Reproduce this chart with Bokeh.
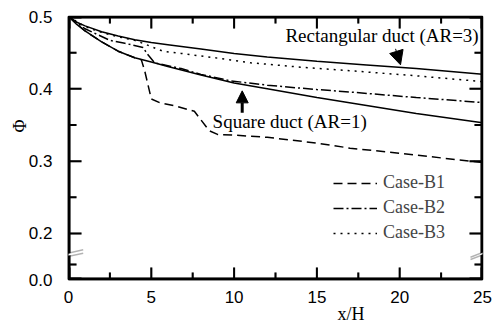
from bokeh.plotting import figure
from bokeh.models import (FixedTicker, Legend, LegendItem, Label, Arrow, Title,
                          NormalHead, Range1d, PolyAnnotation)
from bokeh.embed import file_html
from bokeh.resources import INLINE

# ---- data ----
x_duct = [0, 0.5, 1, 2, 3, 4, 5, 6, 8, 10, 12, 15, 18, 21, 25]
phi_rect = [0.500, 0.492, 0.487, 0.479, 0.473, 0.468, 0.464, 0.461, 0.455, 0.449, 0.444, 0.438, 0.433, 0.428, 0.420]
phi_square = [0.500, 0.489, 0.480, 0.465, 0.452, 0.443, 0.437, 0.431, 0.419, 0.408, 0.400, 0.388, 0.377, 0.366, 0.353]

x_b1 = [0, 1, 2, 3, 4, 4.4, 4.6, 5.0, 5.5, 6.5, 7.6, 8.0, 8.5, 9.0, 10, 12, 15, 17, 20, 25]
phi_b1 = [0.500, 0.480, 0.465, 0.452, 0.443, 0.440, 0.425, 0.386, 0.381, 0.376, 0.369, 0.357, 0.342, 0.337, 0.336, 0.333, 0.325, 0.318, 0.311, 0.298]

x_b2 = [0, 1, 2.5, 3.4, 4.5, 4.8, 5.2, 6, 6.8, 8, 9.8, 12, 15, 17.3, 21, 25]
phi_b2 = [0.500, 0.483, 0.467, 0.463, 0.457, 0.447, 0.436, 0.432, 0.428, 0.420, 0.411, 0.405, 0.399, 0.395, 0.388, 0.381]

x_b3 = [0, 1, 2, 3, 4, 4.6, 5.7, 6.8, 9.8, 11, 14, 17.3, 21, 25]
phi_b3 = [0.500, 0.486, 0.478, 0.472, 0.467, 0.462, 0.452, 0.449, 0.440, 0.436, 0.430, 0.4245, 0.418, 0.410]

case_labels = ["Case-B1", "Case-B2", "Case-B3"]

x_ticks = [0, 5, 10, 15, 20, 25]
x_minor = [2.5, 7.5, 12.5, 17.5, 22.5]
# broken y axis: the "0.0" tick sits just below the break
y_ticks = [0.1364, 0.2, 0.3, 0.4, 0.5]
y_tick_labels = ["0.0", "0.2", "0.3", "0.4", "0.5"]
y_minor = [0.1571, 0.25, 0.35, 0.45]

X0, X1 = 0, 25
Y0, Y1 = 0.1364, 0.5

W, H = 494, 326
BL, BR, BT, BB = 68, 12, 16, 47
FW, FH = W - BL - BR, H - BT - BB
DX = (X1 - X0) / FW   # data units per pixel
DY = (Y1 - Y0) / FH

SANS = "Liberation Sans"
SERIF = "Liberation Serif"

p = figure(width=W, height=H, output_backend="svg", toolbar_location=None,
           x_range=Range1d(X0, X1), y_range=Range1d(Y0, Y1),
           min_border_left=BL, min_border_right=BR, min_border_top=BT, min_border_bottom=BB,
           background_fill_color=None, border_fill_color="white")
p.xgrid.visible = False
p.ygrid.visible = False
p.outline_line_color = "black"
p.outline_line_width = 1.5

xt = FixedTicker(ticks=x_ticks, minor_ticks=x_minor)
yt = FixedTicker(ticks=y_ticks, minor_ticks=y_minor)

for ax in (p.xaxis[0], p.yaxis[0]):
    ax.axis_line_color = "black"
    ax.axis_line_width = 1.5
    ax.major_tick_line_color = None
    ax.minor_tick_line_color = None
    ax.major_tick_in = 0
    ax.major_tick_out = 0
    ax.minor_tick_in = 0
    ax.minor_tick_out = 0
    ax.major_label_text_font = SANS
    ax.major_label_text_font_size = "17px"
    ax.major_label_text_color = "black"
p.xaxis.ticker = xt
p.yaxis.ticker = yt
p.xaxis.major_label_standoff = 11
p.yaxis.major_label_standoff = 16
p.yaxis.major_label_overrides = {t: s for t, s in zip(y_ticks, y_tick_labels)}

# ---- series ----
p.line(x_duct, phi_rect, line_color="black", line_width=1.5)
p.line(x_duct, phi_square, line_color="black", line_width=1.5)
r1 = p.line(x_b1, phi_b1, line_color="black", line_width=1.5, line_dash="9 5")
r2 = p.line(x_b2, phi_b2, line_color="black", line_width=1.5, line_dash="10 3 2 3")
r3 = p.line(x_b3, phi_b3, line_color="black", line_width=1.5, line_dash="2 5")


# ---- frame and inward ticks ----
def sx(v):
    return (v - X0) / DX


def sy(v):
    return (v - Y0) / DY


def rule(x0, y0, x1, y1, lw=2):
    p.add_layout(PolyAnnotation(xs=[sx(x0), sx(x1)], ys=[sy(y0), sy(y1)],
                                xs_units="screen", ys_units="screen",
                                fill_alpha=0, line_color="black", line_width=lw))


for (a, b, c, d) in [(X0, Y0, X1, Y0), (X0, Y1, X1, Y1), (X0, Y0, X0, Y1), (X1, Y0, X1, Y1)]:
    rule(a, b, c, d, 4)
p.line([X0 + DX, X1 - DX], [Y0 + DY, Y0 + DY], line_color="black", line_width=2)
p.line([X0 + DX, X1 - DX], [Y1 - DY, Y1 - DY], line_color="black", line_width=2)
p.line([X0 + DX, X0 + DX], [Y0 + DY, Y1 - DY], line_color="black", line_width=2)
p.line([X1 - DX, X1 - DX], [Y0 + DY, Y1 - DY], line_color="black", line_width=2)

for yy, sgn in ((Y0, 1), (Y1, -1)):
    for ticks, ln in ((x_ticks, 12), (x_minor, 7)):
        for t in ticks:
            rule(t, yy, t, yy + sgn * ln * DY)
            tx = min(max(t, X0 + DX), X1 - DX)
            p.line([tx, tx], [yy + sgn * 0.5 * DY, yy + sgn * ln * DY],
                   line_color="black", line_width=2)
for xx, sgn in ((X0, 1), (X1, -1)):
    for ticks, ln in ((y_ticks, 13), (y_minor, 8)):
        for t in ticks:
            rule(xx, t, xx + sgn * ln * DX, t)
            ty = min(max(t, Y0 + DY), Y1 - DY)
            p.line([xx + sgn * 0.5 * DX, xx + sgn * ln * DX], [ty, ty],
                   line_color="black", line_width=2)

# ---- axis titles ----
t_phi = Title(text="\u03a6", align="left", offset=147, text_font=SERIF, text_font_size="18px",
              text_font_style="normal", text_color="black")
t_x = Title(text="x/H", align="left", offset=269, text_font=SERIF, text_font_size="18px",
            text_font_style="normal", text_color="black")
for t, s, fb in ((t_phi, -8, 0), (t_x, -8, 0)):
    try:
        t.standoff = s
    except Exception:
        t.standoff = fb
p.add_layout(t_phi, "left")
p.add_layout(t_x, "below")

# axis break marks
p.add_layout(PolyAnnotation(xs=[-14.7, 14.7, 14.7, -14.7], ys=[20.6, 27.0, 29.2, 22.4],
                            xs_units="screen", ys_units="screen",
                            fill_color="white", fill_alpha=1, line_color=None))
p.add_layout(PolyAnnotation(xs=[402, 417, 417, 402], ys=[20.4, 26.1, 28.0, 22.0],
                            xs_units="screen", ys_units="screen",
                            fill_color="white", fill_alpha=1, line_color=None))
for (xs, ys, xe, ye) in [(-14.7, 23.0, 14.7, 29.7), (-14.7, 20.0, 14.7, 26.3),
                         (402, 22.3, 417, 28.3), (402, 20.0, 417, 25.7)]:
    p.add_layout(PolyAnnotation(xs=[xs, xe], ys=[ys, ye], xs_units="screen", ys_units="screen",
                                fill_alpha=0, line_color="black", line_width=1.5))

legend = Legend(items=[LegendItem(label=case_labels[0], renderers=[r1]),
                       LegendItem(label=case_labels[1], renderers=[r2]),
                       LegendItem(label=case_labels[2], renderers=[r3])],
                location=(265, 36), label_text_font=SERIF, label_text_font_size="18px",
                glyph_width=44, glyph_height=20, label_height=20, spacing=4,
                padding=0, margin=0, label_standoff=6,
                border_line_color=None, background_fill_alpha=0)
p.add_layout(legend)

# ---- annotations ----
p.add_layout(Label(x=13.1, y=0.4735, text="Rectangular duct (AR=3)", text_font=SERIF,
                   text_font_size="19px", text_baseline="alphabetic", text_color="black"))
p.add_layout(Label(x=8.7, y=0.3545, text="Square duct (AR=1)", text_font=SERIF,
                   text_font_size="19px", text_baseline="alphabetic", text_color="black"))
p.add_layout(Arrow(end=NormalHead(size=14, fill_color="black", line_color="black"),
                   x_start=19.75, y_start=0.4553, x_end=20.05, y_end=0.4332,
                   line_color="black", line_width=1))
p.add_layout(Arrow(end=NormalHead(size=12, fill_color="black", line_color="black"),
                   x_start=10.49, y_start=0.3668, x_end=10.49, y_end=0.3972,
                   line_color="black", line_width=3))

open("out.html", "w").write(file_html(p, INLINE))
